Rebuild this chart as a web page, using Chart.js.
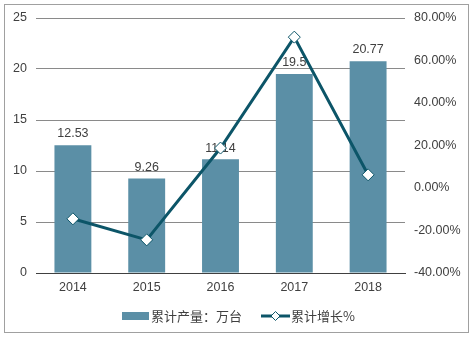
<!DOCTYPE html>
<html>
<head>
<meta charset="utf-8">
<style>
  html, body { margin: 0; padding: 0; background: #fff; }
  #wrap { width: 473px; height: 343px; position: relative; }
</style>
<script src="https://cdn.jsdelivr.net/npm/chart.js@4/dist/chart.umd.min.js"></script>
</head>
<body>
<div id="wrap"><canvas id="c" width="473" height="343"></canvas></div>
<script>
// Yearly cumulative output (万台) and cumulative growth (%)
const years = ['2014', '2015', '2016', '2017', '2018'];
const output = [12.53, 9.26, 11.14, 19.5, 20.77];
const growth = [-14.5, -24.4, 18.8, 71.0, 6.2];
const outputTicks = [0, 5, 10, 15, 20, 25];
const growthTicks = [-40, -20, 0, 20, 40, 60, 80];
const seriesNames = ['累计产量：万台', '累计增长%'];

const BAR_COLOR = '#5b8fa6';
const LINE_COLOR = '#0c5568';
const TEXT_COLOR = '#404040';
const FONT = '"Liberation Sans", "Noto Sans CJK SC", Arial, sans-serif';
const CJK_FONT = '"Noto Sans CJK SC", "Liberation Sans", sans-serif';

// Value labels above each bar, drawn before the line so the line sits on top
const barLabels = {
  id: 'barLabels',
  afterDatasetDraw(chart, args) {
    if (args.index !== 0) return;
    const ctx = chart.ctx;
    ctx.save();
    ctx.font = '12.5px ' + FONT;
    ctx.fillStyle = TEXT_COLOR;
    ctx.textAlign = 'center';
    ctx.textBaseline = 'bottom';
    args.meta.data.forEach((bar, i) => {
      ctx.fillText(String(output[i]), bar.x, bar.y - 5);
    });
    ctx.restore();
  }
};

// Outer frame and the legend row underneath the plot
const frameAndLegend = {
  id: 'frameAndLegend',
  afterDraw(chart) {
    const ctx = chart.ctx;
    ctx.save();
    ctx.strokeStyle = '#a0a0a0';
    ctx.lineWidth = 1;
    ctx.strokeRect(4.5, 4.5, 464, 328);

    const y = 316;
    // bar series swatch
    ctx.fillStyle = BAR_COLOR;
    ctx.fillRect(122, y - 4, 27, 8);
    ctx.font = '13px ' + CJK_FONT;
    ctx.fillStyle = TEXT_COLOR;
    ctx.textBaseline = 'middle';
    ctx.textAlign = 'left';
    ctx.fillText(seriesNames[0], 151, y);

    // line series swatch with diamond marker
    ctx.strokeStyle = LINE_COLOR;
    ctx.lineWidth = 3;
    ctx.beginPath();
    ctx.moveTo(261, y);
    ctx.lineTo(290, y);
    ctx.stroke();
    const cx = 275.5, r = 4.5;
    ctx.beginPath();
    ctx.moveTo(cx, y - r);
    ctx.lineTo(cx + r, y);
    ctx.lineTo(cx, y + r);
    ctx.lineTo(cx - r, y);
    ctx.closePath();
    ctx.fillStyle = '#ffffff';
    ctx.fill();
    ctx.lineWidth = 1;
    ctx.stroke();
    ctx.fillStyle = TEXT_COLOR;
    ctx.fillText(seriesNames[1], 291, y);
    ctx.restore();
  }
};

new Chart(document.getElementById('c'), {
  data: {
    labels: years,
    datasets: [
      {
        type: 'bar',
        label: seriesNames[0],
        data: output,
        yAxisID: 'y',
        backgroundColor: BAR_COLOR,
        categoryPercentage: 1,
        barPercentage: 0.5,
        order: 2
      },
      {
        type: 'line',
        label: seriesNames[1],
        data: growth,
        yAxisID: 'y1',
        borderColor: LINE_COLOR,
        borderWidth: 3,
        pointStyle: 'rectRot',
        pointRadius: 6,
        pointBorderWidth: 1,
        pointBackgroundColor: '#ffffff',
        pointBorderColor: LINE_COLOR,
        tension: 0,
        order: 1
      }
    ]
  },
  options: {
    responsive: false,
    animation: false,
    devicePixelRatio: 1,
    layout: { padding: { left: 4, right: 4, top: 18, bottom: 46 } },
    plugins: {
      legend: { display: false },
      tooltip: { enabled: false }
    },
    scales: {
      x: {
        grid: { display: false, drawTicks: false },
        border: { display: true, color: '#404040', width: 1 },
        ticks: { color: TEXT_COLOR, font: { family: FONT, size: 12.5 }, padding: 7 },
        afterFit(scale) { scale.height = 24; }
      },
      y: {
        position: 'left',
        min: 0,
        max: 25,
        afterBuildTicks(scale) { scale.ticks = outputTicks.map(v => ({ value: v })); },
        grid: { color: '#8a8a8a', lineWidth: 1, drawTicks: false },
        border: { display: false },
        ticks: { color: TEXT_COLOR, font: { family: FONT, size: 12.5 }, padding: 9 },
        afterFit(scale) { scale.width = 32; }
      },
      y1: {
        position: 'right',
        min: -40,
        max: 80,
        afterBuildTicks(scale) { scale.ticks = growthTicks.map(v => ({ value: v })); },
        grid: { display: false, drawTicks: false },
        border: { display: false },
        ticks: {
          color: TEXT_COLOR,
          font: { family: FONT, size: 12.5 },
          padding: 9,
          callback: v => v.toFixed(2) + '%'
        },
        afterFit(scale) { scale.width = 64; }
      }
    }
  },
  plugins: [barLabels, frameAndLegend]
});
</script>
</body>
</html>
